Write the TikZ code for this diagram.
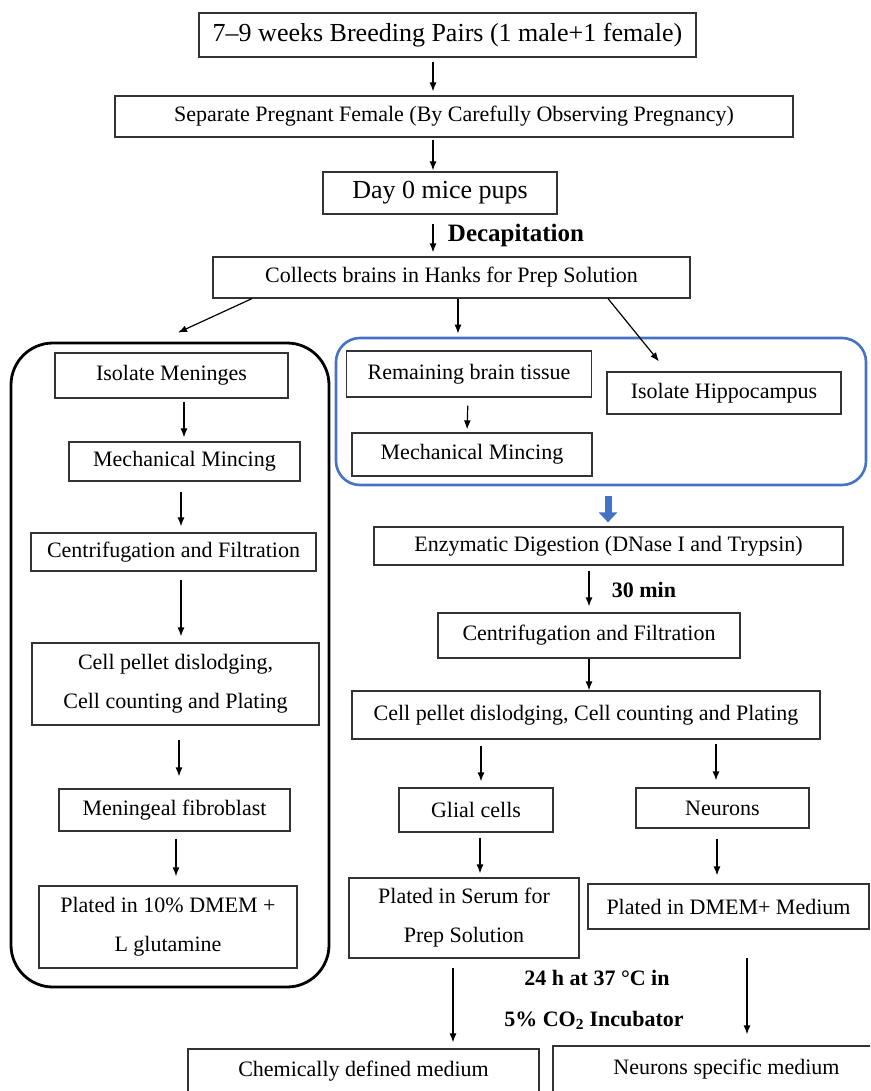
\documentclass[tikz,border=0pt]{standalone}
\usepackage{fontspec}
\setmainfont{Liberation Serif}
\usetikzlibrary{arrows.meta}
\definecolor{officeblue}{RGB}{68,114,196}
\begin{document}
\begin{tikzpicture}[x=1pt,y=-1pt,
  box/.style={draw=black!80, line width=1.2pt, inner sep=0pt, align=center,
    font=\fontsize{22}{39}\selectfont},
  bigbox/.style={box, font=\fontsize{26}{30}\selectfont},
  arr/.style={line width=1.2pt, -{Latex[length=9pt,width=7pt]}},
  lbl/.style={inner sep=0pt, font=\fontsize{22}{26}\selectfont\bfseries},
  frameL/.style={draw=black, line width=2.8pt, rounded corners=42pt, inner sep=0pt},
  frameB/.style={draw=officeblue, line width=2.6pt, rounded corners=24pt, inner sep=0pt},
  blockarr/.style={draw=officeblue, line width=7pt, -{Triangle[length=10pt,width=18pt]}, officeblue}
]
\useasboundingbox (0,0) rectangle (870,1091);
\clip (0,0) rectangle (870,1091);
\fill[white] (0,0) rectangle (870,1091);

% frames
\node[frameL, minimum width=318pt, minimum height=644pt] (groupL) at (170,665) {};
\node[frameB, minimum width=530pt, minimum height=147pt] (groupB) at (601,411.5) {};

% top chain
\node[bigbox, minimum width=497pt, minimum height=44pt] (b1) at (447.5,35) {7–9 weeks Breeding Pairs (1 male+1 female)};
\node[box, minimum width=678pt, minimum height=41pt] (b2) at (454,116.5) {Separate Pregnant Female (By Carefully Observing Pregnancy)};
\node[bigbox, minimum width=234pt, minimum height=42pt] (b3) at (440,193) {Day 0 mice pups};
\node[box, minimum width=477pt, minimum height=41pt] (b4) at (451.5,277.5) {Collects brains in Hanks for Prep Solution};
\node[inner sep=0pt, font=\fontsize{25}{30}\selectfont\bfseries] (decap) at (516,235) {Decapitation};

% left column
\node[box, minimum width=233pt, minimum height=45pt] (mening) at (171.5,375.5) {Isolate Meninges};
\node[box, minimum width=231pt, minimum height=39pt] (mincL) at (184.5,461.5) {Mechanical Mincing};
\node[box, minimum width=285pt, minimum height=38pt] (centL) at (173.5,552) {Centrifugation and Filtration};
\node[box, minimum width=287pt, minimum height=82pt] (pelletL) at (175.5,684) {Cell pellet dislodging,\\Cell counting and Plating};
\node[box, minimum width=231pt, minimum height=42pt] (fibro) at (174.5,810) {Meningeal fibroblast};
\node[box, minimum width=258pt, minimum height=82pt] (platedL) at (168,927) {Plated in 10\% DMEM +\\L glutamine};

% blue group
\node[box, minimum width=245pt, minimum height=46pt] (remain) at (469,374) {Remaining brain tissue};
\node[box, minimum width=234pt, minimum height=42pt] (hippo) at (724,393) {Isolate Hippocampus};
\node[box, minimum width=240pt, minimum height=43pt] (mincR) at (472,454.5) {Mechanical Mincing};

% right chain
\node[box, minimum width=469pt, minimum height=38pt] (enz) at (608.5,546) {Enzymatic Digestion (DNase I and Trypsin)};
\node[lbl] (thirty) at (644,590) {30 min};
\node[box, minimum width=302pt, minimum height=45pt] (centR) at (589,635.5) {Centrifugation and Filtration};
\node[box, minimum width=468pt, minimum height=48pt] (pelletR) at (586,715) {Cell pellet dislodging, Cell counting and Plating};
\node[box, minimum width=154pt, minimum height=44pt] (glial) at (476,810) {Glial cells};
\node[box, minimum width=173pt, minimum height=40pt] (neur) at (722.5,808) {Neurons};
\node[box, minimum width=230pt, minimum height=80pt] (serum) at (464,918) {Plated in Serum for\\Prep Solution};
\node[box, minimum width=281pt, minimum height=45pt] (dmem) at (728.5,906.5) {Plated in DMEM+ Medium};
\node[lbl] (inc1) at (597,978) {24 h at 37 °C in};
\node[lbl] (inc2) at (594,1020) {5\% CO\textsubscript{2} Incubator};
\node[box, minimum width=351pt, minimum height=44pt] (chem) at (363.5,1071) {Chemically defined medium};
\node[box, minimum width=347pt, minimum height=46pt] (nsm) at (726.5,1069) {Neurons specific medium};

% connectors: top
\draw[arr, shorten <=4pt, shorten >=4pt] ([xshift=-14.5pt]b1.south) -- ([xshift=-21pt]b2.north);
\draw[arr, shorten <=2pt, shorten >=1pt] ([xshift=-21pt]b2.south) -- ([xshift=-7pt]b3.north);
\draw[arr, shorten <=9pt, shorten >=4pt] ([xshift=-7pt]b3.south) -- ([xshift=-18.5pt]b4.north);
\draw[arr] ([xshift=-199.5pt]b4.south) -- ([xshift=8pt,yshift=9pt]groupL.north);
\draw[arr] ([xshift=6.5pt]b4.south) -- ([xshift=-143pt,yshift=3pt]groupB.north);
\draw[arr] ([xshift=156.5pt]b4.south) -- ([xshift=-65pt,yshift=10pt]hippo.north);

% left column connectors
\draw[arr, shorten <=3pt, shorten >=4pt] ([xshift=12.5pt]mening.south) -- ([xshift=-0.5pt]mincL.north);
\draw[arr, shorten <=10pt, shorten >=6pt] ([xshift=-3.5pt]mincL.south) -- ([xshift=7.5pt]centL.north);
\draw[arr, shorten <=8pt, shorten >=6pt] ([xshift=7.5pt]centL.south) -- ([xshift=5.5pt]pelletL.north);
\draw[arr, shorten <=14pt, shorten >=12pt] ([xshift=3.5pt]pelletL.south) -- ([xshift=4.5pt]fibro.north);
\draw[arr, shorten <=7pt, shorten >=9pt] ([xshift=1.5pt]fibro.south) -- ([xshift=8pt]platedL.north);

% blue group connectors
\draw[arr, shorten <=8pt, shorten >=3pt] ([xshift=-1pt]remain.south) -- ([xshift=-5pt]mincR.north);
\draw[blockarr] ([xshift=7pt,yshift=-10pt]groupB.south) -- ([xshift=-0.5pt,yshift=4pt]enz.north);

% right chain connectors
\draw[arr, shorten <=5pt, shorten >=6pt] ([xshift=-19.5pt]enz.south) -- (centR.north);
\draw[arr] (centR.south) -- ([xshift=3pt]pelletR.north);
\draw[arr, shorten <=6pt, shorten >=6pt] ([xshift=-105pt]pelletR.south) -- ([xshift=5pt]glial.north);
\draw[arr, shorten <=4pt, shorten >=7pt] ([xshift=130pt]pelletR.south) -- ([xshift=-6.5pt]neur.north);
\draw[arr, shorten <=5pt, shorten >=4pt] ([xshift=4pt]glial.south) -- ([xshift=16pt]serum.north);
\draw[arr, shorten <=10pt, shorten >=8pt] ([xshift=-5.5pt]neur.south) -- ([xshift=-11.5pt]dmem.north);
\draw[arr, shorten <=9pt, shorten >=6pt] ([xshift=-11pt]serum.south) -- ([xshift=89.5pt]chem.north);
\draw[arr, shorten <=28pt, shorten >=11pt] ([xshift=18.5pt]dmem.south) -- ([xshift=20.5pt]nsm.north);
\end{tikzpicture}
\end{document}
